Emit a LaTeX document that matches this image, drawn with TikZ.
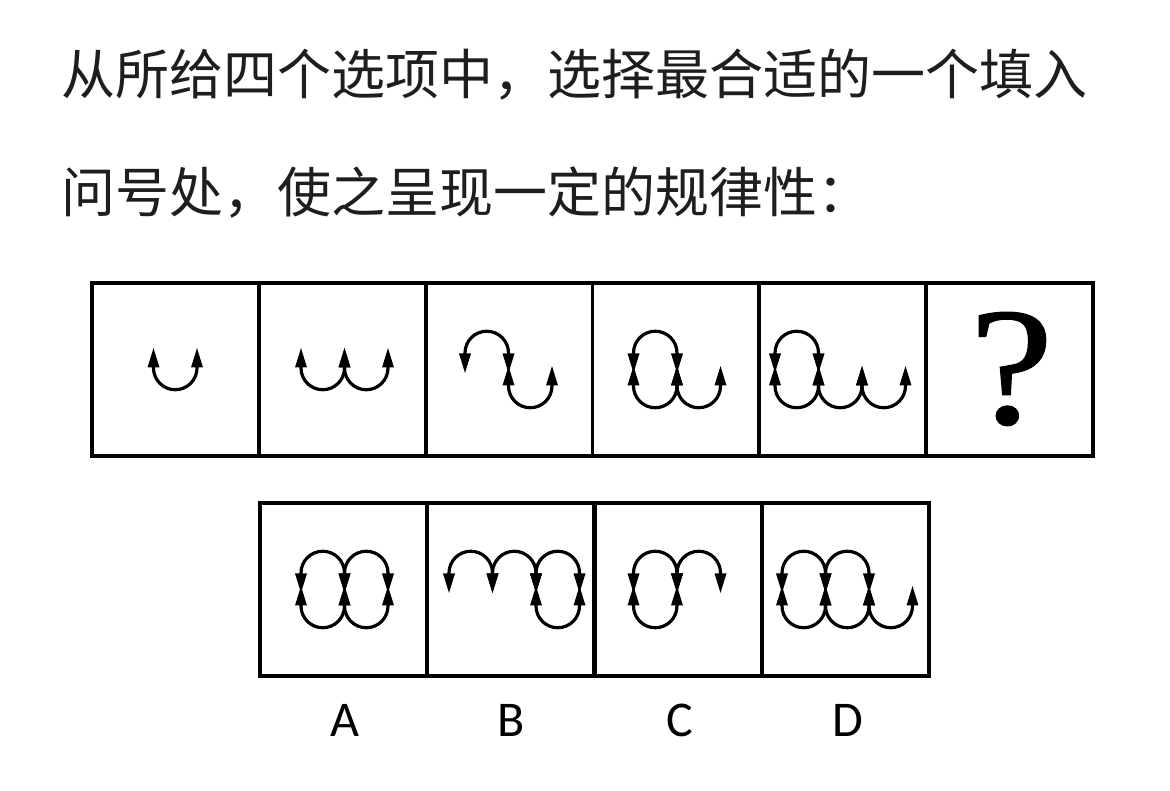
\documentclass[tikz,border=0pt]{standalone}
\usepackage{fontspec}
\newfontfamily\cjkfont{Noto Sans CJK SC}
\newfontfamily\qfont[FakeBold=0.8]{Liberation Serif}
\newfontfamily\labfont{Carlito}
\usetikzlibrary{arrows.meta}
\definecolor{txt}{HTML}{1E1E1E}
\begin{document}
\begin{tikzpicture}[x=1pt,y=1pt,
  wave/.style={line width=3.2pt, {Triangle[length=20pt,width=11pt]}-{Triangle[length=20pt,width=11pt]}},
  cell/.style={draw, line width=3.8pt, minimum width=166.8pt, minimum height=173pt, inner sep=0pt, outer sep=0pt},
  lab/.style={font=\labfont\fontsize{50}{50}\selectfont, inner sep=0pt, text=black},
  title/.style={anchor=base west, inner sep=0pt, font=\cjkfont\fontsize{54}{54}\selectfont, text=txt},
  top/.pic={\draw[wave] (0,-4) -- (0,16.5) arc[start angle=180,end angle=0,radius=21.75] -- (43.5,-4);},
  bot/.pic={\draw[wave] (0,4) -- (0,-16.5) arc[start angle=180,end angle=360,radius=21.75] -- (43.5,4);},
  loop/.pic={\draw[wave] (0,-4) -- (0,16.5) arc[start angle=180,end angle=0,radius=21.75] -- (43.5,-4);
             \draw[wave] (0,4) -- (0,-16.5) arc[start angle=180,end angle=360,radius=21.75] -- (43.5,4);}
]
\useasboundingbox (0,0) rectangle (1170,791);
\fill[white] (0,0) rectangle (1170,791);

% question text
\node[title] (l1) at (61,696) {从所给四个选项中，选择最合适的一个填入};
\node[title] (l2) at (61,578) {问号处，使之呈现一定的规律性：};

% top row of cells
\foreach \i in {1,...,6}{
  \node[cell] (t\i) at ({92+166.83*(\i-0.5)},421.5) {};
}
% answer cells
\foreach \i in {1,...,4}{
  \node[cell] (a\i) at ({260+167.25*(\i-0.5)},201.5) {};
}

% box 1
\pic at (153.5,439.5) {bot};
% box 2
\pic at (301,439.5) {bot};
\pic at (344.5,439.5) {bot};
% box 3
\pic at (465,421.5) {top};
\pic at (508.5,421.5) {bot};
% box 4
\pic at (633.5,421.5) {loop};
\pic at (677,421.5) {bot};
% box 5
\pic at (775,421.5) {loop};
\pic at (818.5,421.5) {bot};
\pic at (862,421.5) {bot};
% box 6
\node[font=\qfont\fontsize{168}{168}\selectfont, inner sep=0pt, xscale=1.12] (q) at (1011.5,422) {?};

% A
\pic at (301,201.5) {loop};
\pic at (344.5,201.5) {loop};
% B
\pic at (449,201.5) {top};
\pic at (492.5,201.5) {top};
\pic at (536,201.5) {loop};
% C
\pic at (633.5,201.5) {loop};
\pic at (677,201.5) {top};
% D
\pic at (782,201.5) {loop};
\pic at (825.5,201.5) {loop};
\pic at (869,201.5) {bot};

% labels
\node[lab] (la) at (345,71) {A};
\node[lab] (lb) at (511,71) {B};
\node[lab] (lc) at (680,71) {C};
\node[lab] (ld) at (848,71) {D};
\end{tikzpicture}
\end{document}
